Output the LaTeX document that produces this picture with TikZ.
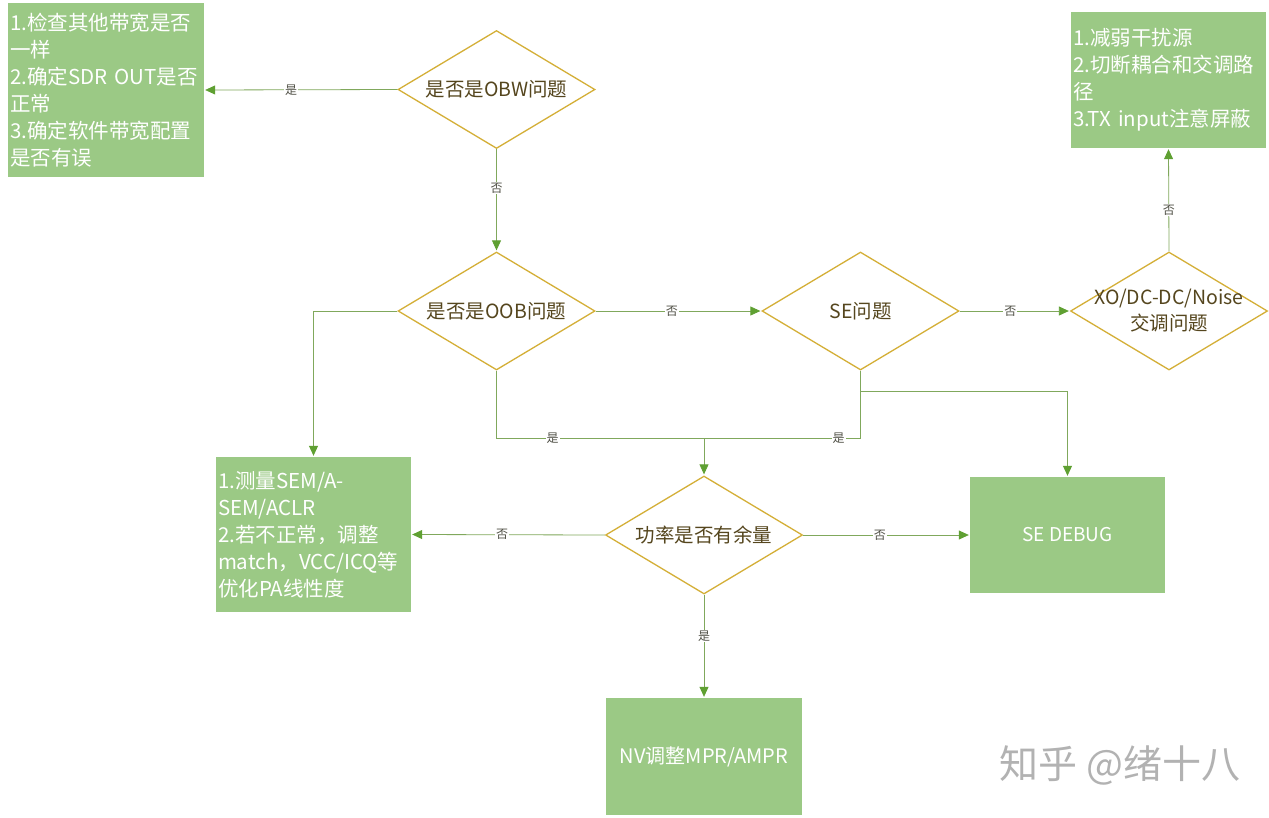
\documentclass[tikz,border=0pt]{standalone}
\usepackage{fontspec}
\setmainfont{Noto Sans CJK SC}
\usetikzlibrary{shapes.geometric,arrows.meta,calc}
\definecolor{boxg}{RGB}{155,201,133}
\definecolor{gold}{RGB}{212,175,55}
\definecolor{linec}{RGB}{128,168,92}
\definecolor{tipc}{RGB}{95,160,50}
\definecolor{dtxt}{RGB}{85,70,30}
\definecolor{ltxt}{RGB}{80,80,70}
\begin{document}
\begin{tikzpicture}[x=1pt,y=-1pt,
  box/.style={fill=boxg, draw=none, text=white, inner sep=2pt,
    font=\fontsize{20.5}{27}\selectfont},
  dia/.style={diamond, draw=gold, line width=1.3pt, fill=white, inner sep=0pt,
    minimum width=197pt, minimum height=118pt},
  dtext/.style={text=dtxt, align=center, font=\fontsize{19.5}{26}\selectfont},
  line/.style={draw=linec, line width=0.8pt},
  conn/.style={line, -{Triangle[length=10pt,width=9pt,fill=tipc,color=tipc]}, shorten >=1pt},
  elab/.style={fill=white, text=ltxt, inner sep=1pt, font=\fontsize{12}{12}\selectfont}]
\useasboundingbox (0,0) rectangle (1269,817);
\fill[white] (0,0) rectangle (1269,817);

% boxes
\node[box, minimum width=196pt, minimum height=174pt, text width=192pt, align=left] (b1) at (106,90)
  {1.检查其他带宽是否\\一样\\2.确定SDR OUT是否\\正常\\3.确定软件带宽配置\\是否有误};
\node[box, minimum width=195pt, minimum height=136pt, text width=191pt, align=left] (tr) at (1168.5,80)
  {1.减弱干扰源\\2.切断耦合和交调路\\径\\3.TX input注意屏蔽};
\node[box, minimum width=195pt, minimum height=155pt, text width=191pt, align=left] (sem) at (313.5,534.5)
  {1.测量SEM/A-\\SEM/ACLR\\2.若不正常，调整\\match，VCC/ICQ等\\优化PA线性度};
\node[box, minimum width=195pt, minimum height=116pt, align=center, font=\fontsize{19}{24}\selectfont] (sed) at (1067.5,535) {SE DEBUG};
\node[box, minimum width=196pt, minimum height=117pt, align=center, font=\fontsize{20}{24}\selectfont] (nv) at (704,756.5) {NV调整MPR/AMPR};

% diamonds
\node[dia] (obw) at (496.5,89.5) {};
\node[dia] (oob) at (496.5,311) {};
\node[dia] (se) at (860.5,311) {};
\node[dia] (xo) at (1169,311) {};
\node[dia] (pw) at (704,535) {};
\node[dtext] (tobw) at (obw.center) {是否是OBW问题};
\node[dtext] (toob) at (oob.center) {是否是OOB问题};
\node[dtext] (tse) at (se.center) {SE问题};
\node[dtext] (txo) at (xo.center) {XO/DC-DC/Noise\\交调问题};
\node[dtext] (tpw) at (pw.center) {功率是否有余量};

% connectors
\draw[conn] (obw.west) -- node[elab, pos=0.55]{是} (b1.east);
\draw[conn] (obw.south) -- node[elab, pos=0.38]{否} (oob.north);
\draw[conn] (oob.west) -| (sem.north);
\draw[conn] (oob.east) -- node[elab, pos=0.46]{否} (se.west);
\draw[conn] (se.east) -- node[elab, pos=0.46]{否} (xo.west);
\draw[conn] (xo.north) -- node[elab, pos=0.4]{否} (tr.south);
\coordinate (m) at (704,438);
\draw[line] (oob.south) |- node[elab, pos=0.635]{是} (m);
\draw[line] (se.south) |- node[elab, pos=0.57]{是} (m);
\draw[conn] (m) -- (pw.north);
\draw[conn] (se.south) -- ++(0,21) -| (sed.north);
\draw[conn] (pw.west) -- node[elab, pos=0.53]{否} (sem.east);
\draw[conn] (pw.east) -- node[elab, pos=0.46]{否} (sed.west);
\draw[conn] (pw.south) -- node[elab, pos=0.4]{是} (nv.north);

% watermark
\node[text=black!30, font=\fontsize{39}{39}\selectfont] (wm) at (1120,765) {知乎 @绪十八};
\end{tikzpicture}
\end{document}
